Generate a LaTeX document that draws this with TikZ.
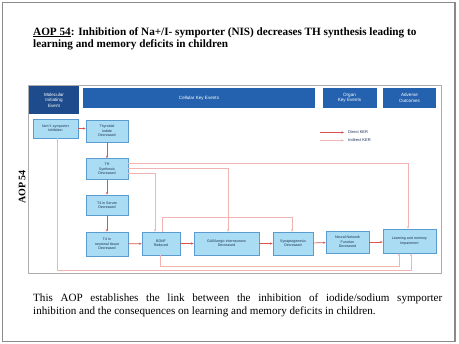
\documentclass[tikz,border=0pt]{standalone}
\usepackage{fontspec}
\setmainfont{Liberation Serif}
\newfontfamily\boxfont{Liberation Sans}
\usetikzlibrary{arrows.meta,calc}
\definecolor{hdrdark}{HTML}{1D4B8C}
\definecolor{hdrblue}{HTML}{2462AF}
\definecolor{boxfill}{HTML}{AADCF3}
\definecolor{boxline}{HTML}{5A9BD0}
\definecolor{boxtext}{HTML}{1A2F55}
\definecolor{direct}{HTML}{D9534F}
\definecolor{indirect}{HTML}{F2B3B3}
\definecolor{framegray}{HTML}{8A8A8A}
\begin{document}
\begin{tikzpicture}[x=1pt,y=-1pt,
  kebox/.style={draw=boxline, fill=boxfill, line width=0.6pt, align=center,
    text=boxtext, font=\boxfont\fontsize{3.6}{4.3}\selectfont, inner sep=0.5pt},
  hdr/.style={fill=hdrblue, text=white, align=center,
    font=\boxfont\fontsize{4.6}{5.4}\selectfont, inner sep=0.5pt},
  dir/.style={draw=direct, line width=0.7pt, -{Stealth[length=2.6pt,width=2.2pt]}},
  ind/.style={draw=indirect, line width=0.7pt, -{Stealth[length=2.6pt,width=2.2pt]}},
  legtext/.style={text=boxtext, font=\boxfont\fontsize{4}{4.8}\selectfont, anchor=west, inner sep=0pt}]
\useasboundingbox (0,0) rectangle (459,344);
\fill[white] (0,0) rectangle (459,344);
% outer frame
\draw[framegray, line width=1.6pt] (2.5,2.5) rectangle (455,341.5);
% title
\node[anchor=north west, align=left, inner sep=0pt,
  font=\bfseries\fontsize{11.2}{12.5}\selectfont] (title) at (33,27)
  {\underline{AOP 54}: Inhibition of Na+/I- symporter (NIS) decreases TH synthesis leading to\\
   learning and memory deficits in children};
% inner diagram frame
\draw[framegray!70, line width=0.6pt] (28.5,85.5) rectangle (441,273);
% AOP label
\node[rotate=90, font=\bfseries\fontsize{10}{12}\selectfont, inner sep=0pt] (aoplab) at (22,187) {AOP 54};
% headers
\node[hdr, fill=hdrdark, minimum width=50pt, minimum height=28pt] (hmie) at (54,100)
  {Molecular\\Initiating\\Event};
\node[hdr, minimum width=232pt, minimum height=20pt] (hcell) at (199,98) {Cellular Key Events};
\node[hdr, minimum width=54pt, minimum height=20pt] (horg) at (349.5,98) {Organ\\Key Events};
\node[hdr, minimum width=53pt, minimum height=20pt] (hao) at (409.5,98) {Adverse\\Outcomes};
% key event boxes
\node[kebox, minimum width=45pt, minimum height=19pt] (mie) at (55.5,128.5) {Na+/I- symporter\\Inhibition};
\node[kebox, minimum width=42pt, minimum height=22pt] (thy) at (107,131) {Thyroidal\\Iodide\\Decreased};
\node[kebox, minimum width=42pt, minimum height=21pt] (ths) at (107,169) {TH\\Synthesis\\Decreased};
\node[kebox, minimum width=42pt, minimum height=20pt] (t4s) at (107,205) {T4 in Serum\\Decreased};
\node[kebox, minimum width=42pt, minimum height=24pt] (t4n) at (107,244) {T4 in\\neuronal tissue\\Decreased};
\node[kebox, minimum width=38pt, minimum height=23pt] (bdnf) at (161,243.5) {BDNF\\Reduced};
\node[kebox, minimum width=65pt, minimum height=23pt] (gaba) at (226.5,243.5) {GABAergic interneurons\\Decreased};
\node[kebox, minimum width=40pt, minimum height=23pt] (syn) at (293,243.5) {Synaptogenesis\\Decreased};
\node[kebox, minimum width=43pt, minimum height=22pt] (nnf) at (347.5,242) {Neural Network\\Function\\Decreased};
\node[kebox, minimum width=53pt, minimum height=24pt] (lm) at (409.5,241) {Learning and memory\\Impairment};
% legend
\coordinate (ld1) at (320,132.5);
\coordinate (ld2) at (344,132.5);
\coordinate (li1) at (320,140.5);
\coordinate (li2) at (344,140.5);
\draw[dir] (ld1) -- (ld2);
\draw[ind] (li1) -- (li2);
\node[legtext] (legd) at (348,132.5) {Direct KER};
\node[legtext] (legi) at (348,140.5) {Indirect KER};
% indirect KERs
\draw[ind] ([yshift=6pt]ths.east) -| ([xshift=-1.5pt]lm.north);
\draw[ind] ([yshift=1pt]ths.east) -| ([xshift=1.5pt]gaba.north);
\draw[ind] ([yshift=-4pt]ths.east) -| ([xshift=-6pt]bdnf.north);
\draw[ind] ([xshift=1pt]bdnf.north) |- (292,217) -- ([xshift=-1pt]syn.north);
\draw[ind] ([xshift=-1pt]bdnf.south) |- (399,266) -- ([xshift=-10.5pt]lm.south);
\draw[ind] ([xshift=1.5pt]mie.south) |- (411,270.5) -- ([xshift=1.5pt]lm.south);
% direct KERs
\draw[dir] (mie) -- (thy.west |- mie);
\draw[dir] (thy) -- (ths);
\draw[dir] (ths) -- (t4s);
\draw[dir] (t4s) -- (t4n);
\draw[dir] (t4n) -- (bdnf);
\draw[dir] (bdnf) -- (gaba);
\draw[dir] (gaba) -- (syn);
\draw[dir] (syn) -- (nnf);
\draw[dir] (nnf.east) -- (lm.west |- nnf.east);
% bottom text
\node[anchor=north west, inner sep=0pt, text width=409pt, align=justify,
  font=\fontsize{11.1}{13}\selectfont] (desc) at (33,293)
  {This AOP establishes the link between the inhibition of iodide/sodium symporter\linebreak
   inhibition and the consequences on learning and memory deficits in children.};
\end{tikzpicture}
\end{document}
